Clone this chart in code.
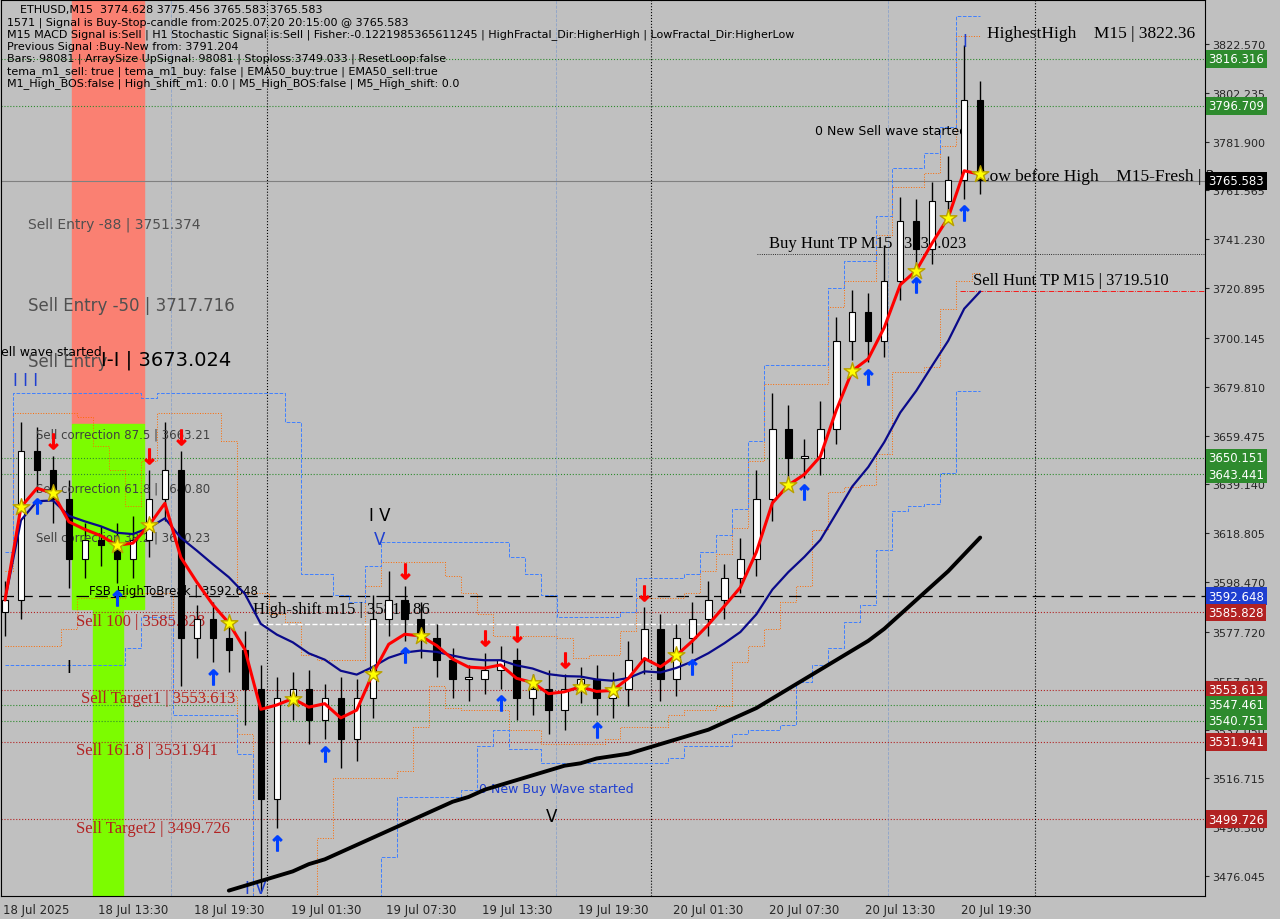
import numpy as np, pandas as pd, seaborn as sns, matplotlib
matplotlib.use("Agg")
import matplotlib.pyplot as plt
from matplotlib.patches import Rectangle

closes = [3591,3653,3645,3633,3608,3616,3614,3608,3616,3633,3645,3575,3583,3575,3570,3554,3508,3550,3554,3541,
          3550,3533,3550,3583,3591,3583,3575,3566,3558,3558,3562,3566,3550,3554,3545,3554,3558,3550,3554,3566,
          3579,3558,3575,3583,3591,3600,3608,3633,3662,3650,3650,3662,3699,3711,3699,3724,3749,3737,3757,3766,3799,3766]
wick_up = [8,12,10,6,8,7,6,9,10,12,20,8,6,7,6,8,10,9,7,8,6,9,8,10,12,6,7,6,5,6,7,6,5,6,8,6,5,6,7,8,
           9,6,6,7,8,6,9,12,15,10,8,12,10,9,8,15,10,9,8,10,23,8]
wick_dn = [10,8,9,10,12,8,9,10,8,7,9,20,8,10,9,15,38,12,9,10,8,12,9,8,7,9,8,7,8,9,6,8,9,7,10,8,6,7,8,7,
           6,9,7,6,7,8,6,7,9,10,8,7,6,8,9,7,8,9,6,7,8,6]
black_ma = [None]*14 + [3470,3472,3474,3476,3478,3481,3483,3486,3489,3492,3495,3498,3501,3504,3507,3509,3512,3514,3516,
            3518,3520,3522,3523,3525,3526,3527,3529,3531,3533,3535,3537,3540,3543,3546,3550,3554,3558,3562,3566,3570,3574,3579,3585,3591,3597,3603,3610,3617]
right_labels = [(3816.316,'#2e8b2e'),(3796.709,'#2e8b2e'),(3765.583,'#000000'),(3650.151,'#2e8b2e'),(3643.441,'#2e8b2e'),
                (3592.648,'#1f3fd0'),(3585.828,'#b22222'),(3553.613,'#b22222'),(3547.461,'#2e8b2e'),(3540.751,'#2e8b2e'),
                (3531.941,'#b22222'),(3499.726,'#b22222')]
yticks = [3822.570,3802.235,3781.900,3761.565,3741.230,3720.895,3700.145,3679.810,3659.475,3639.140,3618.805,
          3598.470,3577.720,3557.385,3537.050,3516.715,3496.380,3476.045]
xlabels = ['18 Jul 2025','18 Jul 13:30','18 Jul 19:30','19 Jul 01:30','19 Jul 07:30','19 Jul 13:30','19 Jul 19:30',
           '20 Jul 01:30','20 Jul 07:30','20 Jul 13:30','20 Jul 19:30']

sns.set_style("white")
plt.rcParams['font.family'] = ['DejaVu Sans']
SERIF = ['Liberation Serif', 'DejaVu Serif']
fig = plt.figure(figsize=(12.8,9.2), dpi=100)
fig.patch.set_facecolor('#c0c0c0')
ax = fig.add_axes([0.0008, 23/920, 1205/1280-0.0008, 1-23/920-0.001])
ax.set_facecolor('#c0c0c0')
px = lambda p: (p-4)/16.0
ax.set_xlim(px(0), px(1205))
def py(y): return 3822.57-(y-44)/2.404
ax.set_ylim(py(897), py(0))

n = len(closes)
idx = np.arange(n)
opens = [closes[0]-5] + closes[:-1]
highs = [max(o,c)+w for o,c,w in zip(opens,closes,wick_up)]
lows = [min(o,c)-w for o,c,w in zip(opens,closes,wick_dn)]
df = pd.DataFrame(dict(i=idx,o=opens,c=closes,h=highs,l=lows))

ax.add_patch(Rectangle((px(71),py(425)),px(143)-px(71),py(0)-py(425),color='#fa8072',zorder=1))
ax.add_patch(Rectangle((px(71),py(610)),px(143)-px(71),py(425)-py(610),color='#7cfc00',zorder=1))
ax.add_patch(Rectangle((px(92),py(897)),px(122)-px(92),py(610)-py(897),color='#7cfc00',zorder=1))

for v,c in right_labels:
    if c=='#000000':
        ax.axhline(v,color='#808080',lw=0.8,zorder=1)
    elif c=='#1f3fd0':
        ax.axhline(v,color='black',lw=0.9,ls=(0,(10,5)),zorder=1)
    else:
        ax.axhline(v,color=c,lw=0.8,ls=':',zorder=1)
    ax.text(1.003,v,f'{v:.3f}',transform=ax.get_yaxis_transform(),va='center',ha='left',fontsize=8.5,
            color='white',bbox=dict(boxstyle='square,pad=0.2',fc=c,ec='none'),clip_on=False,zorder=20)
for xp in [266,651,1035]:
    ax.axvline(px(xp),color='black',lw=0.8,ls=':',zorder=1)
for xp in [170,555,888]:
    ax.axvline(px(xp),color='#6a8fd0',lw=0.6,ls='--',alpha=0.6,zorder=1)

ax.plot(idx, df.h.rolling(4,min_periods=1).max()+4, color='#ff6a00', lw=0.7, ls=':', drawstyle='steps-mid')
ax.plot(idx, df.l.rolling(4,min_periods=1).min()-4, color='#ff6a00', lw=0.7, ls=':', drawstyle='steps-mid')
ax.plot(idx, df.h.rolling(8,min_periods=1).max()+12, color='#4080ff', lw=0.7, ls='--', drawstyle='steps-mid')
ax.plot(idx, df.l.rolling(8,min_periods=1).min()-12, color='#4080ff', lw=0.7, ls='--', drawstyle='steps-mid')

for r in df.itertuples():
    ax.vlines(r.i, r.l, r.h, color='black', lw=1, zorder=3)
    up = r.c >= r.o
    ax.add_patch(Rectangle((r.i-0.2, min(r.o,r.c)), 0.4, max(abs(r.c-r.o),0.8),
                 fc='white' if up else 'black', ec='black', lw=0.8, zorder=4))

df['red'] = df.c.ewm(span=4).mean()
df['navy'] = df.c.ewm(span=14).mean()
df['blk'] = pd.Series(black_ma, dtype=float)
sns.lineplot(data=df, x='i', y='navy', color='#0a0a8a', lw=1.6, ax=ax, zorder=5)
sns.lineplot(data=df, x='i', y='red', color='#ff0000', lw=2.2, ax=ax, zorder=6)
sns.lineplot(data=df, x='i', y='blk', color='black', lw=2.8, ax=ax, zorder=6)

stars = [1,3,7,9,14,18,23,26,33,36,38,42,49,53,57,59,61]
ax.scatter(stars, [df.red[i] for i in stars], marker='*', s=160, color='yellow', edgecolor='#b8a000', zorder=8)
ups = [2,7,13,17,20,25,31,37,43,50,54,57,60]
ax.scatter(ups, [df.l[i]-6 for i in ups], marker=r'$\uparrow$', s=120, color='#0040ff', zorder=8)
dns = [3,9,11,25,30,32,35,40]
ax.scatter(dns, [df.h[i]+6 for i in dns], marker=r'$\downarrow$', s=120, color='red', zorder=8)

T = lambda x,y,s,**k: ax.text(px(x),py(y),s,va='center',**k)
T(27,224,'Sell Entry -88 | 3751.374',fontsize=10,color='#505050')
T(27,305,'Sell Entry -50 | 3717.716',fontsize=12,color='#505050')
T(0,352,'ell wave started',fontsize=9,color='black')
T(27,361,'Sell Entry',fontsize=12,color='#505050')
T(100,360,'I-I | 3673.024',fontsize=14,color='black')
T(35,435,'Sell correction 87.5 | 3663.21',fontsize=8.5,color='#404040')
T(35,489,'Sell correction 61.8 | 3640.80',fontsize=8.5,color='#404040')
T(35,538,'Sell correction 38.2 | 3620.23',fontsize=8.5,color='#404040')
T(88,591,'FSB_HighToBreak | 3592.648',fontsize=8.5,color='black')
T(75,622,'Sell 100 | 3585.828',fontsize=12,color='#b22222',family=SERIF)
T(80,699,'Sell Target1 | 3553.613',fontsize=12,color='#b22222',family=SERIF)
T(75,751,'Sell 161.8 | 3531.941',fontsize=12,color='#b22222',family=SERIF)
T(75,829,'Sell Target2 | 3499.726',fontsize=12,color='#b22222',family=SERIF)
T(252,610,'High-shift m15 | 3581.186',fontsize=12,color='black',family=SERIF)
ax.plot([px(252),px(757)],[3581.2,3581.2],color='white',lw=1,ls='--',zorder=2)
T(478,789,'0 New Buy Wave started',fontsize=9,color='#1f3fd0')
T(815,131,'0 New Sell wave started',fontsize=9,color='black')
T(769,243,'Buy Hunt TP M15 | 3735.023',fontsize=12,color='black',family=SERIF)
ax.plot([px(757),px(1205)],[3735,3735],color='black',lw=0.6,ls=':')
T(973,280,'Sell Hunt TP M15 | 3719.510',fontsize=12,color='black',family=SERIF)
ax.plot([px(960),px(1205)],[3719.5,3719.5],color='red',lw=0.6,ls='-.')
T(987,33,'HighestHigh    M15 | 3822.36',fontsize=12.5,color='black',family=SERIF)
T(979,176,'Low before High    M15-Fresh | 3',fontsize=12.5,color='black',family=SERIF)
T(12,380,'I I I',fontsize=12,color='#1f3fd0')
T(368,516,'I V',fontsize=12,color='black'); T(373,540,'V',fontsize=12,color='#1f3fd0')
T(545,817,'V',fontsize=12,color='black'); T(244,889,'I V',fontsize=12,color='#1f3fd0')
T(962,41,'I',fontsize=12,color='#1f3fd0'); T(65,668,'I',fontsize=12,color='black')

info = ["ETHUSD,M15  3774.628 3775.456 3765.583 3765.583",
 "1571 | Signal is Buy-Stop-candle from:2025.07.20 20:15:00 @ 3765.583",
 "M15 MACD Signal is:Sell | H1 Stochastic Signal is:Sell | Fisher:-0.1221985365611245 | HighFractal_Dir:HigherHigh | LowFractal_Dir:HigherLow",
 "Previous Signal :Buy-New from: 3791.204",
 "Bars: 98081 | ArraySize UpSignal: 98081 | Stoploss:3749.033 | ResetLoop:false",
 "tema_m1_sell: true | tema_m1_buy: false | EMA50_buy:true | EMA50_sell:true",
 "M1_High_BOS:false | High_shift_m1: 0.0 | M5_High_BOS:false | M5_High_shift: 0.0"]
for k,s in enumerate(info):
    fig.text(7/1280 if k else 20/1280, 1-(10+k*12.3)/920, s, fontsize=8, va='center', color='black')

ax.yaxis.tick_right()
ax.set_yticks(yticks); ax.set_yticklabels([f'{v:.3f}' for v in yticks], fontsize=8)
ax.set_xticks([px(x) for x in [35,132,228,325,421,517,613,708,804,900,996]])
ax.set_xticklabels(xlabels, fontsize=8.5)
ax.tick_params(length=3, pad=2)
ax.set_xlabel(''); ax.set_ylabel('')
for s in ax.spines.values(): s.set_color('black')
fig.savefig('out.png', dpi=100, facecolor=fig.get_facecolor())
